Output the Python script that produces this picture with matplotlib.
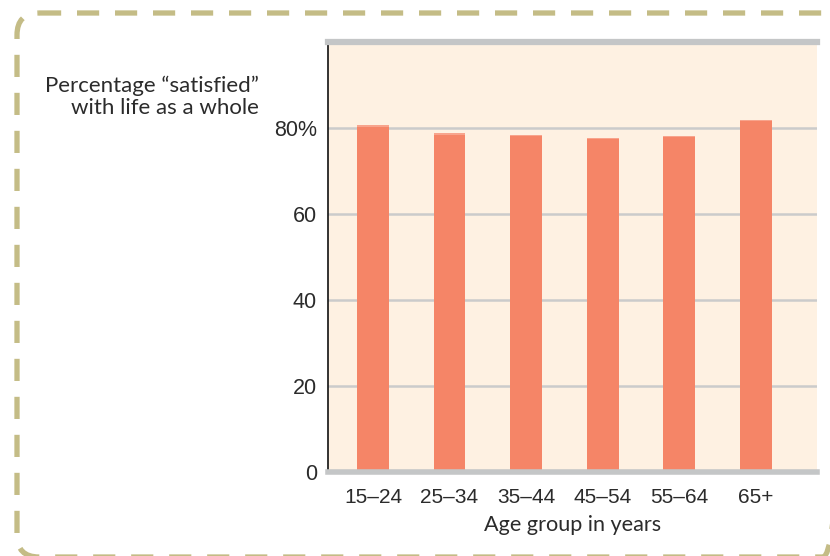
import matplotlib
matplotlib.use("Agg")
import matplotlib.pyplot as plt
from matplotlib.patches import FancyBboxPatch

categories = ["15–24", "25–34", "35–44", "45–54", "55–64", "65+"]
satisfied = [80.7, 78.8, 78.4, 77.7, 78.2, 81.9]
yticks = [0, 20, 40, 60, 80]
ytick_labels = ["0", "20", "40", "60", "80%"]

W, H = 830, 556
fig = plt.figure(figsize=(W / 100, H / 100), dpi=100)

# background overlay axes in pixel coords for the dashed rounded border
bg = fig.add_axes([0, 0, 1, 1], zorder=0)
bg.set_xlim(0, W)
bg.set_ylim(H, 0)
bg.axis("off")
border = FancyBboxPatch((17, 13), 828, 544,
                        boxstyle="round,pad=0,rounding_size=22",
                        fill=False, edgecolor="#c4bc86", linewidth=3.8,
                        linestyle=(0, (4.2, 3.0)), clip_on=False)
bg.add_patch(border)

text_font = "Lato"
num_font = "Liberation Sans"
tc = "#2b2b2b"

bg.text(259, 97, "Percentage “satisfied”\nwith life as a whole", ha="right", va="center",
        fontsize=16, family=text_font, color=tc, linespacing=1.12)

ax = fig.add_axes([328 / W, 1 - 472.3 / H, (817 - 328) / W, (472.3 - 42) / H], zorder=1)
ax.set_facecolor("#fef1e2")
x = list(range(len(categories)))
ax.bar(x, satisfied, width=0.415, color="#f58567", edgecolor="none", zorder=3)
# lighter top edge on bars
ax.bar(x, [0.35] * len(x), bottom=[v - 0.35 for v in satisfied], width=0.415,
       color="#f8a48c", edgecolor="none", zorder=3)

ax.set_xlim(-0.587, 5.80)
ax.set_ylim(0, 100)

for yv in yticks[1:]:
    ax.axhline(yv, color="#cbcbcb", linewidth=1.8, zorder=1)
ax.axhline(100, color="#c4c6c7", linewidth=4.5, zorder=4, clip_on=False)
ax.axhline(0, color="#c4c6c7", linewidth=4.0, zorder=4, clip_on=False)

for s in ["top", "right", "bottom"]:
    ax.spines[s].set_visible(False)
ax.spines["left"].set_color("#111111")
ax.spines["left"].set_linewidth(1.2)

ax.set_yticks(yticks)
ax.set_yticklabels(ytick_labels, family=num_font, fontsize=15.5, color=tc)
ax.set_xticks(x)
ax.set_xticklabels(categories, family=num_font, fontsize=15, color=tc)
ax.tick_params(axis="y", length=0, pad=8)
ax.tick_params(axis="x", length=0, pad=11)
ax.set_xlabel("Age group in years", family=text_font, fontsize=15.6, color=tc, labelpad=6)

fig.savefig("out.png", dpi=100)
